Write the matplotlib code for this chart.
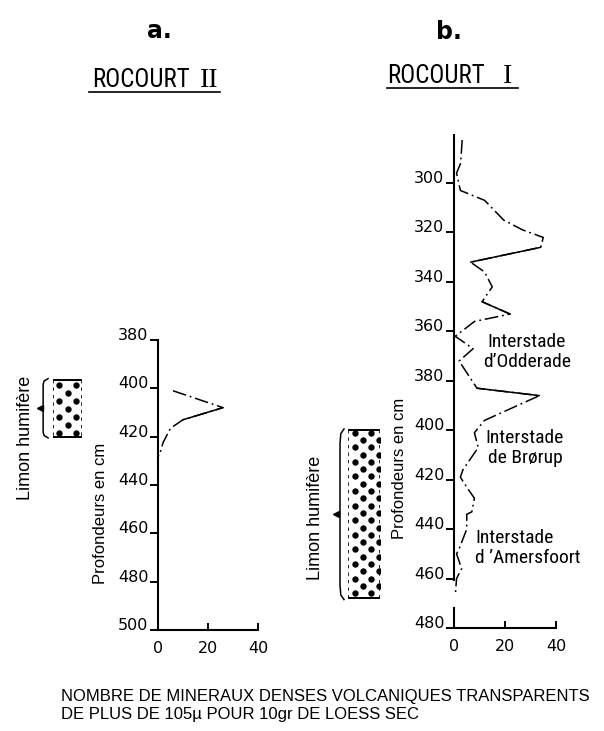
import numpy as np
import matplotlib
matplotlib.use("Agg")
import matplotlib.pyplot as plt
from matplotlib.lines import Line2D
from matplotlib import font_manager

# Rocourt II (a): depth in cm, number of volcanic heavy minerals
depth_a = [401, 408, 413, 416.5, 422.5, 428]
count_a = [6, 26, 10, 5, 2, 0.5]
solid_a = [1]              # segments drawn as a full line
limon_a = (396.5, 420)     # humic silt, top / base (cm)

# Rocourt I (b)
depth_b = [282.6, 292, 296, 303, 307, 315, 319, 322, 326, 332, 336, 342,
           348, 353, 356, 362, 367, 372, 383, 386, 396, 401, 407, 416,
           419, 423, 427.5, 433, 434, 440, 448, 450, 456, 460, 467]
count_b = [3.2, 2.6, 1.0, 2.5, 12, 19.5, 27, 35, 34, 6.5, 12, 15,
           11, 22, 8, 0.5, 7.5, 2, 9, 33.5, 12, 8, 9.5, 3.5,
           2.5, 5, 8, 7, 5, 5, 2, 1, 3, 1, 0.5]
solid_b = [8, 12, 18]
limon_b = (400, 468)

yticks_a = [380, 400, 420, 440, 460, 480, 500]
yticks_b = [300, 320, 340, 360, 380, 400, 420, 440, 460, 480]
xticks = [0, 20, 40]

interstades = ["Interstade\nd’Odderade", "Interstade\nde Brørup",
               "Interstade\nd ’Amersfoort"]

# fonts
names = {f.name for f in font_manager.fontManager.ttflist}


def pick(*cands):
    for c in cands:
        if c in names:
            return c
    return "DejaVu Sans"


sans = pick("Liberation Sans", "Arial")
narrow = pick("Roboto Condensed", "Archivo Narrow", "PT Sans Narrow",
              "Barlow Condensed", "Liberation Sans Narrow", "Liberation Sans")
serif = pick("Liberation Serif", "DejaVu Serif")
plt.rcParams["font.family"] = [sans, "DejaVu Sans"]

W, H = 604, 731
fig = plt.figure(figsize=(W / 100, H / 100), dpi=100)
fig.patch.set_facecolor("white")


def fx(px):
    return px / W


def fy(py):
    return 1 - py / H


def axes_px(left, top, right, bottom):
    return fig.add_axes([left / W, 1 - bottom / H, (right - left) / W, (bottom - top) / H])


def style_axis(ax, yticks, ylim):
    ax.set_xlim(0, 40)
    ax.set_ylim(*ylim)
    ax.set_xticks(xticks)
    ax.set_yticks(yticks)
    ax.spines["top"].set_visible(False)
    ax.spines["right"].set_visible(False)
    for s in ("left", "bottom"):
        ax.spines[s].set_linewidth(1.5)
    ax.tick_params(axis="y", direction="out", length=6, width=1.4, pad=1)
    ax.tick_params(axis="x", direction="in", length=5, width=1.4, pad=8)
    for lab in ax.get_yticklabels() + ax.get_xticklabels():
        lab.set_fontfamily("DejaVu Sans")
        lab.set_fontsize(11.5)
    plt.setp(ax.get_yticklabels(), va="baseline")
    ax.patch.set_alpha(0)


def draw_profile(ax, depth, count, solid):
    ax.plot(count, depth, color="k", lw=1.1, dashes=(9, 2.5, 1.2, 2.5), clip_on=False)
    for i in solid:
        ax.plot(count[i:i + 2], depth[i:i + 2], color="k", lw=1.1,
                solid_capstyle="round", clip_on=False)


def draw_limon(ax, top, base, rows, cols_even, cols_odd, brace_x, tip_x):
    ax.set_xlim(0, 1)
    ax.axis("off")
    ax.plot([0, 1], [top, top], color="k", lw=1.4)
    ax.plot([0, 1], [base, base], color="k", lw=1.4)
    for x in (0, 1):
        ax.plot([x, x], [top, base], color="k", lw=1.2, dashes=(2, 2.5))
    for j, y in enumerate(rows):
        cols = cols_even if j % 2 == 0 else cols_odd
        ax.plot(cols, [y] * len(cols), "o", color="k", ms=4.6, mec="none")
    # curly bracket with its tip pointing left
    h = base - top
    bx = [brace_x * 0.5, brace_x * 0.9, brace_x, brace_x, brace_x * 0.9, brace_x * 0.5]
    by = [top - 0.5, top + 0.02 * h, top + 0.08 * h, base - 0.08 * h, base - 0.02 * h, base + 0.5]
    ax.plot(bx, by, color="k", lw=1.1, clip_on=False)
    ax.plot([tip_x], [(top + base) / 2], marker="<", color="k", ms=5, clip_on=False)


# panel a
ax_a = axes_px(158, 340, 258, 630)
style_axis(ax_a, yticks_a, (500, 380))
draw_profile(ax_a, depth_a, count_a, solid_a)

lith_a = axes_px(53, 340, 82, 630)
lith_a.set_ylim(500, 380)
rows_a = np.arange(limon_a[0] + 2.1, limon_a[1], 3.31)
draw_limon(lith_a, limon_a[0], limon_a[1], rows_a, [0.2, 0.78], [0.5], -0.34, -0.45)

# panel b
ax_b = axes_px(454, 133.6, 556, 628)
style_axis(ax_b, yticks_b, (480, 280))
ax_b.spines["left"].set_visible(False)
ax_b.plot([0, 0], [280, 461], color="k", lw=1.5, clip_on=False, solid_capstyle="butt")
ax_b.plot([0, 0], [471.5, 480], color="k", lw=1.5, clip_on=False, solid_capstyle="butt")
draw_profile(ax_b, depth_b, count_b, solid_b)

lith_b = axes_px(348, 133.6, 380, 628)
lith_b.set_ylim(480, 280)
rows_b = np.arange(limon_b[0] + 1.0, limon_b[1], 2.95)
draw_limon(lith_b, limon_b[0], limon_b[1], rows_b, [0.22, 0.72], [0.47, 0.97], -0.25, -0.36)

# side labels
fig.text(fx(25), fy(438), "Limon humifère", rotation=90, ha="center", va="center", size=13)
fig.text(fx(315), fy(518), "Limon humifère", rotation=90, ha="center", va="center", size=13)
fig.text(fx(100), fy(513), "Profondeurs en cm", rotation=90, ha="center", va="center", size=12)
fig.text(fx(399), fy(468), "Profondeurs en cm", rotation=90, ha="center", va="center", size=12)

# interstadials next to profile b
fig.text(fx(527), fy(352), interstades[0], ha="center", va="center", size=14,
         linespacing=1.2, family=narrow)
fig.text(fx(525), fy(448), interstades[1], ha="center", va="center", size=14,
         linespacing=1.2, family=narrow)
fig.text(fx(475), fy(548), interstades[2], ha="left", va="center", size=14,
         linespacing=1.2, family=narrow)

# headings
fig.text(fx(159), fy(31), "a.", ha="center", va="center", size=17, weight="bold", family="DejaVu Sans")
fig.text(fx(449), fy(32), "b.", ha="center", va="center", size=17, weight="bold", family="DejaVu Sans")
fig.text(fx(92), fy(87), "ROCOURT", ha="left", va="baseline", size=18, family=narrow)
fig.text(fx(209), fy(87), "II", ha="center", va="baseline", size=20, family=serif)
fig.text(fx(387), fy(83), "ROCOURT", ha="left", va="baseline", size=18, family=narrow)
fig.text(fx(508), fy(83), "I", ha="center", va="baseline", size=20, family=serif)
fig.add_artist(Line2D([fx(89), fx(220)], [fy(92), fy(92)], color="k", lw=1.2))
fig.add_artist(Line2D([fx(387), fx(518)], [fy(88), fy(88)], color="k", lw=1.2))

# x-axis caption
fig.text(fx(61), fy(696), "NOMBRE DE MINERAUX DENSES VOLCANIQUES TRANSPARENTS",
         ha="left", va="center", size=12)
fig.text(fx(61), fy(715), "DE PLUS DE 105µ POUR 10gr DE LOESS SEC",
         ha="left", va="center", size=12)

fig.savefig("out.png", dpi=100, facecolor="white")
